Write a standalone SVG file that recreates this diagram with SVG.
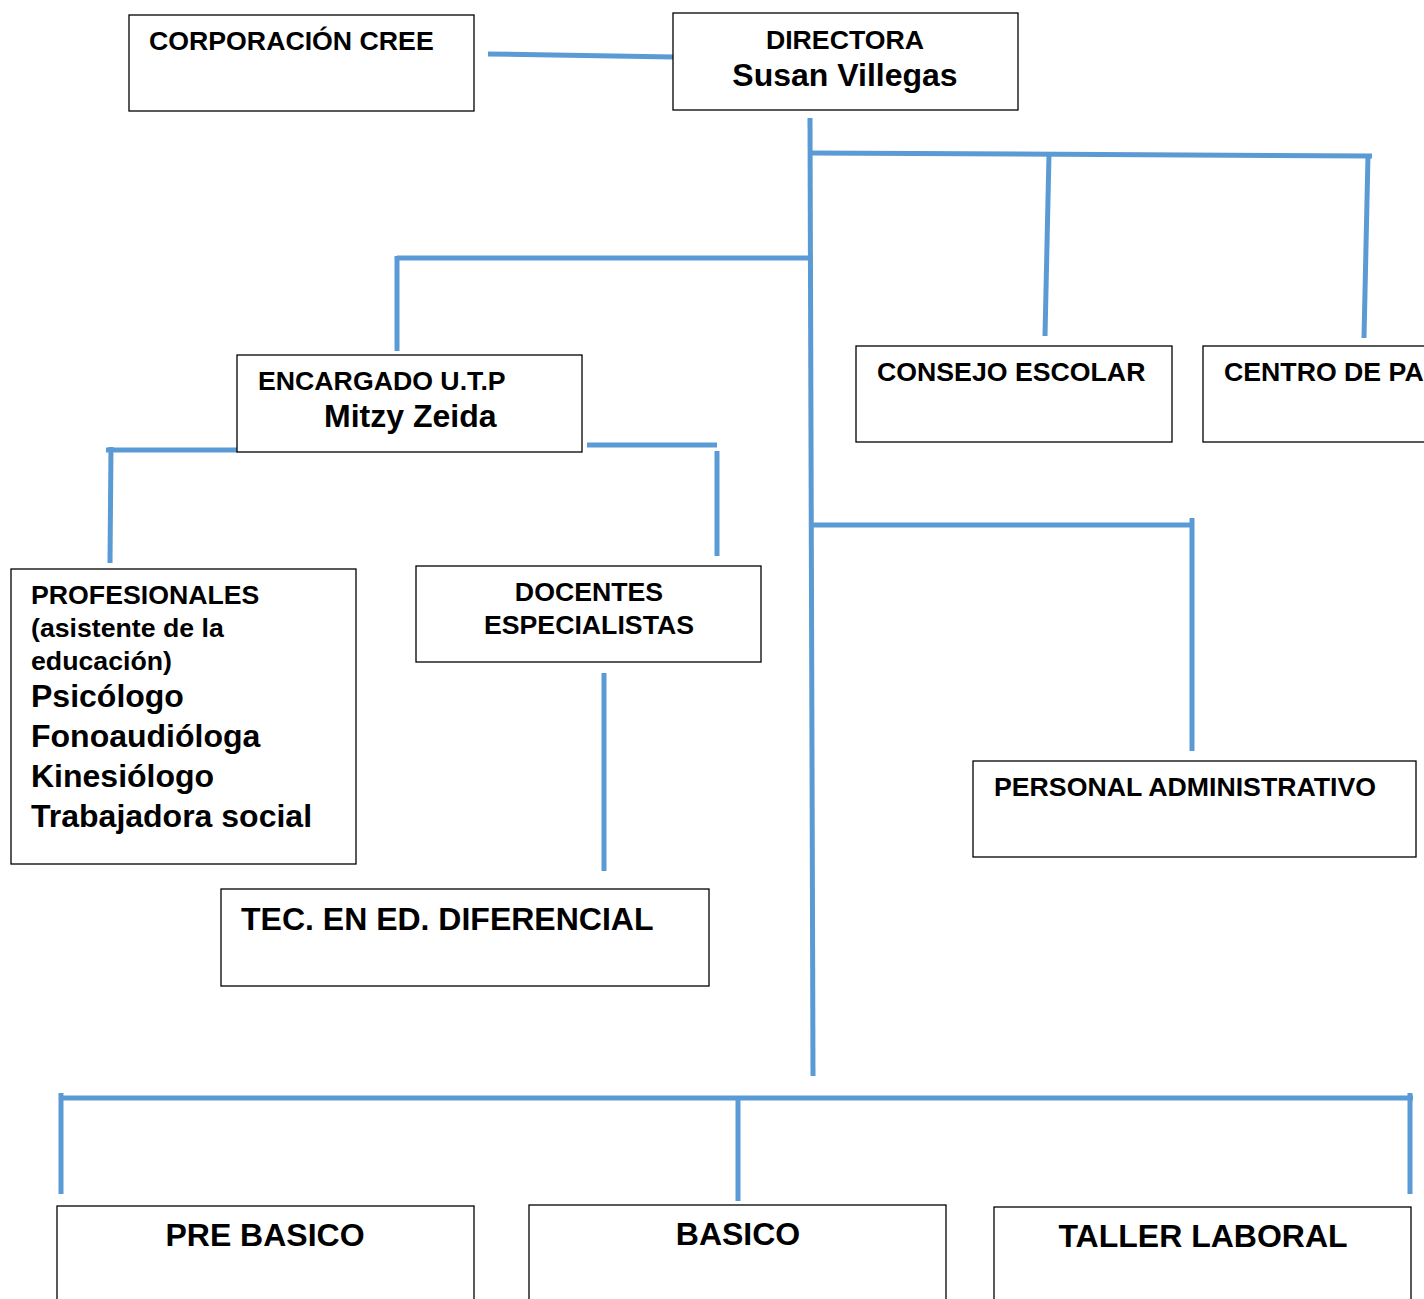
<svg xmlns="http://www.w3.org/2000/svg" width="1424" height="1299" viewBox="0 0 1424 1299">
<style>
.box{fill:#fff;stroke:#000;stroke-width:1.3}
.t{font-family:"Liberation Sans",Arial,sans-serif;font-weight:bold;fill:#000}
.s{font-size:26.7px}
.l{font-size:32px}
.c{stroke:#5b9bd5;stroke-width:5;fill:none}
</style>
<rect width="1424" height="1299" fill="#fff"/>
<g id="connectors">
<line class="c" x1="488" y1="54" x2="674" y2="57"/>
<line class="c" x1="810" y1="118" x2="813" y2="1076"/>
<line class="c" x1="810" y1="153" x2="1372" y2="156"/>
<line class="c" x1="1049" y1="154" x2="1045" y2="336"/>
<line class="c" x1="1368" y1="155" x2="1364" y2="338"/>
<line class="c" x1="397" y1="258" x2="808" y2="258"/>
<line class="c" x1="397" y1="256" x2="397" y2="351"/>
<line class="c" x1="106" y1="450" x2="237" y2="450"/>
<line class="c" x1="111" y1="447" x2="110" y2="563"/>
<line class="c" x1="587" y1="445" x2="717" y2="445"/>
<line class="c" x1="717" y1="451" x2="717" y2="556"/>
<line class="c" x1="604" y1="673" x2="604" y2="871"/>
<line class="c" x1="812" y1="525" x2="1194" y2="525"/>
<line class="c" x1="1192" y1="518" x2="1192" y2="751"/>
<line class="c" x1="60" y1="1098" x2="1413" y2="1098" stroke-width="6"/>
<line class="c" x1="61" y1="1093" x2="61" y2="1194"/>
<line class="c" x1="738" y1="1098" x2="738" y2="1201"/>
<line class="c" x1="1410" y1="1093" x2="1410" y2="1194"/>
</g>
<g id="corporacion">
<rect class="box" x="129" y="15" width="345" height="96"/>
<text class="t s" x="149" y="50">CORPORACIÓN CREE</text>
</g>
<g id="directora">
<rect class="box" x="673" y="13" width="345" height="97"/>
<text class="t s" x="845" y="49" text-anchor="middle">DIRECTORA</text>
<text class="t l" x="845" y="86" text-anchor="middle">Susan Villegas</text>
</g>
<g id="encargado">
<rect class="box" x="237" y="355" width="345" height="97"/>
<text class="t s" x="258" y="390">ENCARGADO U.T.P</text>
<text class="t l" x="324" y="427">Mitzy Zeida</text>
</g>
<g id="consejo">
<rect class="box" x="856" y="346" width="316" height="96"/>
<text class="t s" x="877" y="381">CONSEJO ESCOLAR</text>
</g>
<g id="centro">
<rect class="box" x="1203" y="346" width="240" height="96"/>
<text class="t s" x="1224" y="381">CENTRO DE PA</text>
</g>
<g id="profesionales">
<rect class="box" x="11" y="569" width="345" height="295"/>
<text class="t s" x="31" y="604">PROFESIONALES</text>
<text class="t s" x="31" y="637">(asistente de la</text>
<text class="t s" x="31" y="670">educación)</text>
<text class="t l" x="31" y="707">Psicólogo</text>
<text class="t l" x="31" y="747">Fonoaudióloga</text>
<text class="t l" x="31" y="787">Kinesiólogo</text>
<text class="t l" x="31" y="827">Trabajadora social</text>
</g>
<g id="docentes">
<rect class="box" x="416" y="566" width="345" height="96"/>
<text class="t s" x="589" y="601" text-anchor="middle">DOCENTES</text>
<text class="t s" x="589" y="634" text-anchor="middle">ESPECIALISTAS</text>
</g>
<g id="tec">
<rect class="box" x="221" y="889" width="488" height="97"/>
<text class="t l" x="241" y="930">TEC. EN ED. DIFERENCIAL</text>
</g>
<g id="personal">
<rect class="box" x="973" y="761" width="443" height="96"/>
<text class="t s" x="994" y="796">PERSONAL ADMINISTRATIVO</text>
</g>
<g id="prebasico">
<rect class="box" x="57" y="1206" width="417" height="110"/>
<text class="t l" x="265" y="1246" text-anchor="middle">PRE BASICO</text>
</g>
<g id="basico">
<rect class="box" x="529" y="1205" width="417" height="110"/>
<text class="t l" x="738" y="1245" text-anchor="middle">BASICO</text>
</g>
<g id="taller">
<rect class="box" x="994" y="1207" width="417" height="110"/>
<text class="t l" x="1203" y="1247" text-anchor="middle">TALLER LABORAL</text>
</g>
</svg>
